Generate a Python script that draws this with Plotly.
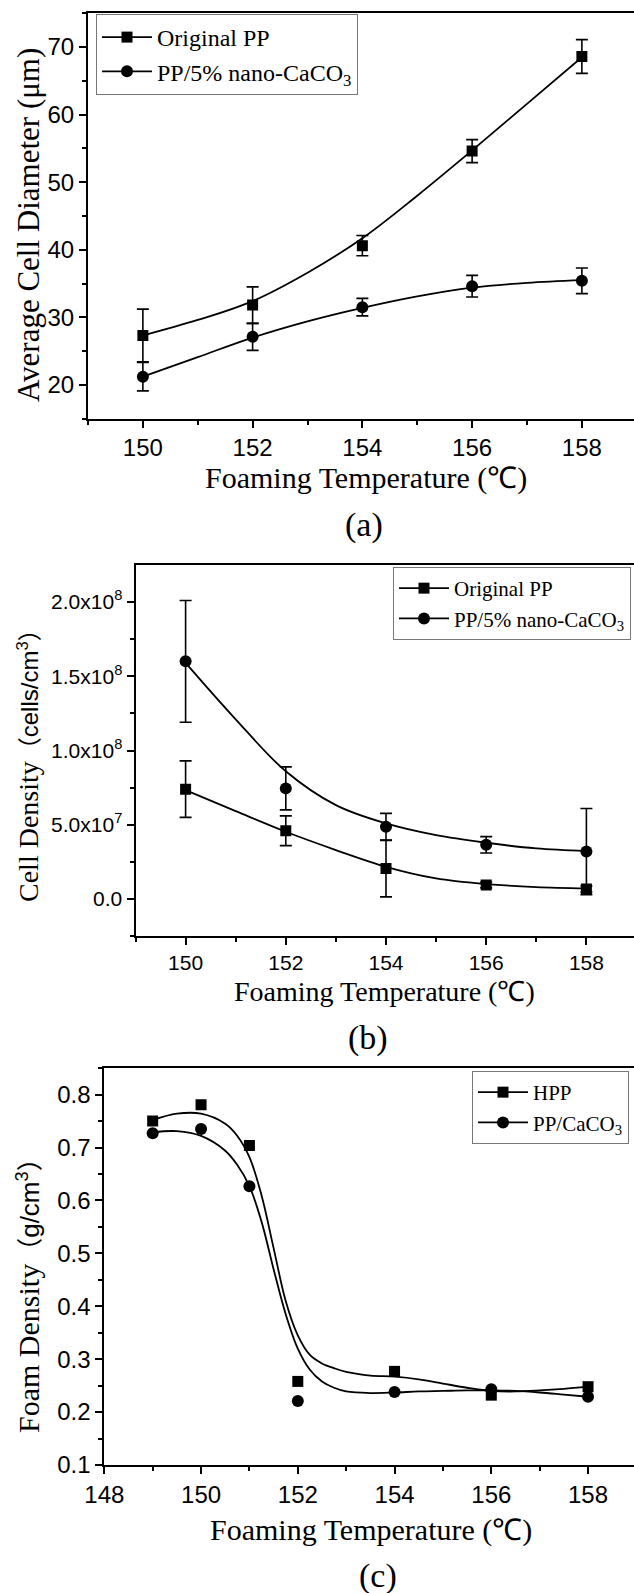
import plotly.graph_objects as go

SERIF = "Liberation Serif, Times New Roman, serif"
SANS = "Liberation Sans, Arial, sans-serif"

# ---------------- data ----------------
temp_ab = [150, 152, 154, 156, 158]

# (a) average cell diameter (um)
diam_pp = [27.3, 31.8, 40.6, 54.6, 68.6]
diam_pp_err = [3.9, 2.7, 1.5, 1.7, 2.5]
diam_ca = [21.2, 27.1, 31.5, 34.6, 35.4]
diam_ca_err = [2.1, 2.0, 1.3, 1.6, 1.9]
curve_ab_x = [150, 151, 152, 153, 154, 155, 156, 157, 158]
diam_pp_curve = [27.3, 29.6, 32.4, 36.6, 41.7, 48.0, 54.7, 61.6, 68.5]
diam_ca_curve = [21.2, 24.1, 27.0, 29.4, 31.4, 33.1, 34.4, 35.1, 35.5]

# (b) cell density (cells/cm3)
dens_pp = [7.4e7, 4.6e7, 2.05e7, 0.95e7, 0.68e7]
dens_pp_err = [1.9e7, 1.0e7, 1.9e7, 0.2e7, 0.2e7]
dens_ca = [1.60e8, 7.45e7, 4.87e7, 3.65e7, 3.2e7]
dens_ca_err = [4.1e7, 1.45e7, 0.9e7, 0.55e7, 2.9e7]
dens_pp_curve = [7.33e7, 5.92e7, 4.53e7, 3.30e7, 2.17e7, 1.39e7, 1.01e7, 0.81e7, 0.72e7]
dens_ca_curve = [15.9e7, 12.1e7, 8.6e7, 6.32e7, 5.09e7, 4.30e7, 3.79e7, 3.41e7, 3.23e7]
dens_ticks = [0, 5e7, 1e8, 1.5e8, 2e8]
dens_ticktext = ["0.0", "5.0x10<sup>7</sup>", "1.0x10<sup>8</sup>",
                 "1.5x10<sup>8</sup>", "2.0x10<sup>8</sup>"]
dens_minor = [-2.5e7, 2.5e7, 7.5e7, 1.25e8, 1.75e8]

# (c) foam density (g/cm3)
temp_c = [149, 150, 151, 152, 154, 156, 158]
foam_hpp = [0.750, 0.781, 0.704, 0.258, 0.277, 0.232, 0.248]
foam_ca = [0.727, 0.735, 0.627, 0.221, 0.238, 0.243, 0.229]
curve_c_x = [149, 149.5, 150, 150.5, 150.75, 151, 151.25, 151.5, 151.75, 152,
             152.25, 152.5, 152.75, 153, 153.5, 154, 154.5, 155, 155.5, 156,
             156.5, 157, 157.5, 158]
foam_hpp_curve = [0.752, 0.764, 0.764, 0.745, 0.722, 0.682, 0.610, 0.510, 0.410,
                  0.345, 0.308, 0.292, 0.283, 0.276, 0.269, 0.267, 0.262, 0.254,
                  0.246, 0.240, 0.239, 0.241, 0.244, 0.248]
foam_ca_curve = [0.729, 0.731, 0.722, 0.694, 0.667, 0.627, 0.560, 0.470, 0.385,
                 0.320, 0.280, 0.258, 0.246, 0.239, 0.236, 0.237, 0.239, 0.240,
                 0.241, 0.241, 0.240, 0.237, 0.233, 0.229]

W, H = 634, 1593


def px(x):
    return x / W


def py(y):
    return 1 - y / H


fig = go.Figure()

LINE_W = 1.8
ERR = dict(type="data", thickness=1.6, width=6, color="black")


def add_series(xa, ya, legend, name, sym, size, px_, py_, err, cx, cy):
    fig.add_trace(go.Scatter(x=cx, y=cy, mode="lines", line=dict(color="black", width=LINE_W, shape="spline"),
                             xaxis=xa, yaxis=ya, showlegend=False, hoverinfo="skip"))
    kw = {}
    if err is not None:
        kw["error_y"] = dict(array=err, **ERR)
    fig.add_trace(go.Scatter(x=px_, y=py_, mode="markers", marker=dict(symbol=sym, size=size, color="black"),
                             xaxis=xa, yaxis=ya, showlegend=False, **kw))
    fig.add_trace(go.Scatter(x=[None], y=[None], mode="lines+markers", name=name,
                             line=dict(color="black", width=LINE_W),
                             marker=dict(symbol=sym, size=size, color="black"),
                             xaxis=xa, yaxis=ya, legend=legend))


add_series("x", "y", "legend", "Original PP", "square", 11, temp_ab, diam_pp, diam_pp_err, curve_ab_x, diam_pp_curve)
add_series("x", "y", "legend", "PP/5% nano-CaCO<sub>3</sub>", "circle", 12, temp_ab, diam_ca, diam_ca_err, curve_ab_x, diam_ca_curve)
add_series("x2", "y2", "legend2", "Original PP", "square", 11, temp_ab, dens_pp, dens_pp_err, curve_ab_x, dens_pp_curve)
add_series("x2", "y2", "legend2", "PP/5% nano-CaCO<sub>3</sub>", "circle", 12, temp_ab, dens_ca, dens_ca_err, curve_ab_x, dens_ca_curve)
add_series("x3", "y3", "legend3", "HPP", "square", 11, temp_c, foam_hpp, None, curve_c_x, foam_hpp_curve)
add_series("x3", "y3", "legend3", "PP/CaCO<sub>3</sub>", "circle", 12, temp_c, foam_ca, None, curve_c_x, foam_ca_curve)


def axis_common(fs):
    return dict(showline=True, linewidth=2, linecolor="black", ticks="outside", ticklen=7,
                tickwidth=1.5, tickcolor="black", showgrid=False, zeroline=False, automargin=False,
                tickfont=dict(family=SANS, size=fs, color="black"))


MINOR = dict(ticks="outside", ticklen=4, tickwidth=1.5, tickcolor="black")

fig.update_layout(
    xaxis=dict(domain=[px(88), 1], range=[149, 158.95], anchor="y", mirror=True,
               tickmode="linear", tick0=150, dtick=2,
               minor=dict(dtick=1, tick0=150, **MINOR), **axis_common(24)),
    yaxis=dict(domain=[py(418.6), py(13.3)], range=[15, 75], anchor="x",
               tickmode="linear", tick0=0, dtick=10,
               minor=dict(dtick=5, tick0=0, **MINOR), **axis_common(24)),
    xaxis2=dict(domain=[px(135.5), 1], range=[149, 158.95], anchor="y2", mirror=True,
                tickmode="linear", tick0=150, dtick=2,
                minor=dict(dtick=1, tick0=150, **MINOR), **axis_common(21)),
    yaxis2=dict(domain=[py(936.2), py(564.8)], range=[-2.5e7, 2.25e8], anchor="x2",
                tickmode="array", tickvals=dens_ticks, ticktext=dens_ticktext,
                minor=dict(tickvals=dens_minor, **MINOR), **axis_common(21)),
    xaxis3=dict(domain=[px(104.3), 1], range=[148, 158.95], anchor="y3", mirror=True,
                tickmode="linear", tick0=148, dtick=2,
                minor=dict(dtick=1, tick0=148, **MINOR), **axis_common(24)),
    yaxis3=dict(domain=[py(1465), py(1068.2)], range=[0.1, 0.85], anchor="x3",
                tickmode="linear", tick0=0.1, dtick=0.1, tickformat=".1f",
                minor=dict(dtick=0.05, tick0=0.1, **MINOR), **axis_common(24)),
)

leg_common = dict(bgcolor="rgba(255,255,255,0)", bordercolor="#777", borderwidth=1,
                  xanchor="left", yanchor="top", itemwidth=50, tracegroupgap=0)
fig.update_layout(
    legend=dict(x=px(96), y=py(14), font=dict(family=SERIF, size=24, color="black"), **leg_common),
    legend2=dict(x=px(393), y=py(567), font=dict(family=SERIF, size=21, color="black"), **leg_common),
    legend3=dict(x=px(472), y=py(1071), font=dict(family=SERIF, size=21, color="black"), **leg_common),
)

ann = []


def text(x, y, t, size, angle=0, family=SERIF):
    ann.append(dict(x=px(x), y=py(y), xref="paper", yref="paper", text=t, showarrow=False,
                    textangle=angle, font=dict(family=family, size=size, color="black"),
                    xanchor="center", yanchor="middle"))


xtitle = "Foaming Temperature (℃)"
text(366, 478, xtitle, 30)
text(28, 225, "Average Cell Diameter (μm)", 31, -90)
text(364, 525, "(a)", 34)

text(384, 992, xtitle, 28)
text(28, 760, 'Cell Density<span style="font-family:Liberation Sans, Noto Sans CJK SC;font-size:24px">（cells/cm<sup>3</sup>）</span>', 28, -90)
text(368, 1038, "(b)", 34)

text(371, 1530, xtitle, 30)
text(28, 1289, 'Foam Density<span style="font-family:Liberation Sans, Noto Sans CJK SC;font-size:26px">（g/cm<sup>3</sup>）</span>', 30, -90)
text(378, 1576, "(c)", 34)

fig.update_layout(annotations=ann, width=W, height=H, margin=dict(l=0, r=0, t=0, b=0),
                  paper_bgcolor="white", plot_bgcolor="white")

fig.write_html("out.html")
